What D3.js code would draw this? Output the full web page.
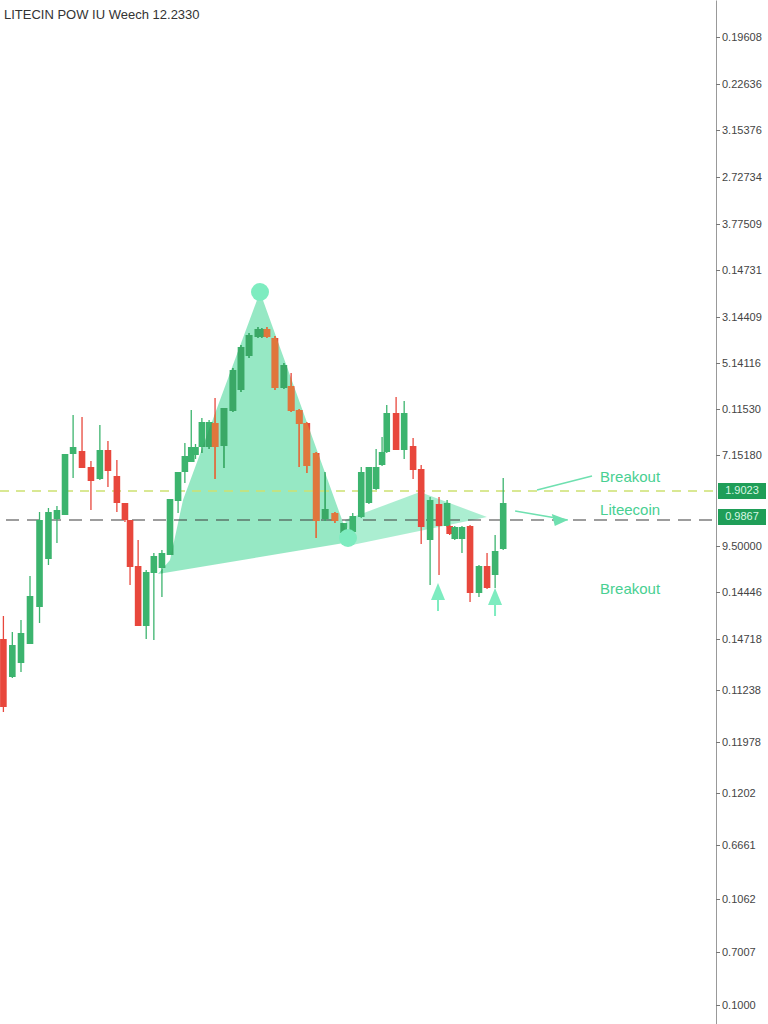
<!DOCTYPE html>
<html><head><meta charset="utf-8">
<script src="https://cdn.jsdelivr.net/npm/d3@7"></script>
<style>
html,body{margin:0;padding:0;background:#fff;}
svg{display:block;font-family:"Liberation Sans",Arial,sans-serif;}
</style></head>
<body>
<svg id="chart" width="768" height="1024"></svg>
<script>
const title = "LITECIN POW IU Weech 12.2330";
// candles: [time, open, high, low, close]
const candles = [
[0.4,38.5,40.8,31.2,31.7],[1.45,34.7,39.2,34.6,37.9],[2.47,36.1,40.4,35.2,39.1],[3.53,38.0,44.8,38.0,42.8],
[4.65,41.7,51.2,40.1,50.4],[5.7,46.5,51.6,45.9,51.2],[6.7,50.5,51.8,48.1,51.4],[7.65,50.9,57.0,50.9,57.0],
[8.6,57.0,60.9,54.6,57.7],[9.65,57.3,60.7,55.6,55.6],[10.7,55.7,56.3,51.4,54.3],[11.75,54.5,59.9,54.4,57.4],
[12.7,57.4,58.3,53.7,55.3],[13.75,54.8,56.4,51.2,52.1],[14.7,52.1,52.1,50.2,50.4],[15.3,50.4,50.4,43.9,45.7],
[16.25,45.8,48.4,39.8,39.8],[17.2,39.8,45.4,38.5,45.2],[18.1,45.1,47.1,38.4,46.8],[19.05,45.6,47.4,42.7,47.1],
[20.0,46.9,52.5,46.9,52.5],[20.95,52.3,55.2,51.1,55.2],[21.75,55.2,58.1,54.1,56.8],[22.5,56.2,61.4,56.2,57.7],
[23.0,56.9,58.0,56.5,57.7],[23.75,57.7,60.6,57.1,60.2],[24.6,57.7,60.4,57.5,60.2],[25.3,60.1,62.6,54.5,57.7],
[26.35,57.8,61.6,55.6,61.6],[27.4,61.3,65.6,61.2,65.4],[28.35,63.4,67.9,63.2,67.7],[29.3,66.8,69.1,66.6,68.9],
[30.35,68.7,69.7,68.6,69.5],[30.8,68.7,69.6,68.6,69.5],[31.4,69.5,69.7,68.6,68.7],[32.35,68.6,68.8,63.4,63.6],
[33.4,63.6,66.1,63.5,65.9],[34.25,63.8,65.1,61.2,61.3],[35.2,61.4,61.5,55.7,60.0],[36.1,60.1,60.2,55.1,55.8],
[37.2,57.1,57.2,48.6,50.3],[38.25,50.5,55.2,50.3,51.5],[39.4,51.1,51.2,50.1,50.3],[40.45,49.1,49.3,48.9,50.1],
[41.5,49.2,51.1,49.1,50.8],[42.5,50.7,55.7,50.6,55.2],[43.4,52.1,55.7,52.0,55.7],[44.25,53.5,57.5,53.4,55.7],
[44.95,55.9,58.7,55.8,57.2],[45.5,57.2,61.9,57.1,61.1],[46.6,61.1,62.7,57.4,57.4],[47.55,57.4,62.3,56.5,61.1],
[48.6,57.8,58.6,54.5,55.4],[49.55,55.5,55.9,48.0,49.7],[50.6,48.4,52.7,43.9,52.4],[51.65,52.0,52.7,44.9,49.8],
[52.6,49.8,52.4,49.7,52.1],[52.9,49.8,49.9,48.9,49.0],[53.5,48.5,49.8,48.4,49.7],[54.35,48.5,49.8,47.1,49.7],
[55.3,49.8,49.9,42.2,43.1],[56.35,43.1,45.9,42.7,45.8],[57.3,45.8,47.1,43.5,43.6],[58.25,44.9,48.9,43.6,47.3],
[59.2,47.5,54.6,47.4,52.1]
];
const tickValues = [98.7,94.0,89.4,84.7,80.0,75.4,70.7,66.1,61.5,56.9,47.8,43.2,38.5,33.4,28.2,23.1,17.9,12.5,7.2,1.9];
const tickLabels = ["0.19608","0.22636","3.15376","2.72734","3.77509","0.14731","3.14409","5.14116","0.11530","7.15180",
"9.50000","0.14446","0.14718","0.11238","0.11978","0.1202","0.6661","0.1062","0.7007","0.1000"];
const levelPrices = [53.3, 50.4];
const levelBadges = ["1.9023", "0.9867"];
const patternMain = [[30.59,73.2],[21.53,52.4],[20.0,46.4],[18.59,45.0],[41.18,48.2]];
const patternWedge = [[40.59,50.4],[49.41,53.2],[57.29,50.7],[41.41,47.9]];
const patternDots = [[30.59,73.2],[40.94,48.6]];
const upArrows = [[51.53,44.1],[58.24,43.6]];
const noteLabels = ["Breakout","Liteecoin","Breakout"];
const notePos = [[70.6,54.6],[70.6,51.3],[70.6,43.4]];
const noteLines = [[[63.18,53.4],[69.65,54.8]],[[60.6,51.3],[66.8,50.4]]];

const svg = d3.select("#chart");
const x = d3.scaleLinear().domain([0,84]).range([0,714]);
const y = d3.scaleLinear().domain([0,102.4]).range([1024,0]);
const axisX = 716;

const mint = "#8de6bf";
const green = "#3cb46e", red = "#e8473c";

const defs = svg.append("defs");
defs.append("clipPath").attr("id","pclip").append("polygon")
  .attr("points", patternMain.map(p=>[x(p[0]),y(p[1])].join(",")).join(" "));

svg.append("polygon").attr("points", patternMain.map(p=>[x(p[0]),y(p[1])].join(",")).join(" "))
  .attr("fill", mint).attr("opacity",0.92);
svg.append("polygon").attr("points", patternWedge.map(p=>[x(p[0]),y(p[1])].join(",")).join(" "))
  .attr("fill", "#9cebc9").attr("opacity",0.85);

svg.append("line").attr("x1",0).attr("x2",axisX).attr("y1",y(levelPrices[0])).attr("y2",y(levelPrices[0]))
  .attr("stroke","#cde170").attr("stroke-width",1.3).attr("stroke-dasharray","9,7");
svg.append("line").attr("x1",6).attr("x2",axisX).attr("y1",y(levelPrices[1])).attr("y2",y(levelPrices[1]))
  .attr("stroke","#3d3d3d").attr("stroke-width",1.2).attr("stroke-dasharray","13,8");

function drawCandles(g, up, down){
  const c = g.selectAll("g.c").data(candles).join("g").attr("class","c");
  c.append("line").attr("x1",d=>x(d[0])).attr("x2",d=>x(d[0]))
    .attr("y1",d=>y(d[2])).attr("y2",d=>y(d[3]))
    .attr("stroke",d=>d[4]>=d[1]?up:down).attr("stroke-width",1.3);
  c.append("rect").attr("x",d=>x(d[0])-3.3).attr("width",6.6)
    .attr("y",d=>y(Math.max(d[1],d[4])))
    .attr("height",d=>Math.max(1.5, Math.abs(y(d[1])-y(d[4]))))
    .attr("fill",d=>d[4]>=d[1]?up:down);
}
drawCandles(svg.append("g"), green, red);
drawCandles(svg.append("g").attr("clip-path","url(#pclip)"), "#3aa866", "#e0763c");

svg.selectAll("circle.dot").data(patternDots).join("circle").attr("class","dot")
  .attr("cx",d=>x(d[0])).attr("cy",d=>y(d[1])).attr("r",9).attr("fill","#7eecc0");

upArrows.forEach(a=>{
  const cx = x(a[0]), ty = y(a[1]);
  svg.append("line").attr("x1",cx).attr("x2",cx).attr("y1",ty+10).attr("y2",ty+28)
    .attr("stroke","#7eecc0").attr("stroke-width",2);
  svg.append("polygon").attr("points",`${cx},${ty} ${cx-7},${ty+17} ${cx+7},${ty+17}`).attr("fill","#7eecc0");
});

const noteColor = "#48d092";
noteLines.forEach(l=>{
  svg.append("line").attr("x1",x(l[0][0])).attr("y1",y(l[0][1])).attr("x2",x(l[1][0])).attr("y2",y(l[1][1]))
    .attr("stroke","#6fe0b0").attr("stroke-width",1.6);
});
{
  const tip = [x(noteLines[1][1][0]), y(noteLines[1][1][1])];
  svg.append("polygon").attr("points",`${tip[0]},${tip[1]} ${tip[0]-16},${tip[1]-6} ${tip[0]-13},${tip[1]+6}`)
    .attr("fill","#6fe0b0");
}
noteLabels.forEach((t,i)=>{
  svg.append("text").attr("x",x(notePos[i][0])).attr("y",y(notePos[i][1]))
    .attr("fill",noteColor).attr("font-size",15).attr("dominant-baseline","middle").text(t);
});

const ax = svg.append("g").attr("transform",`translate(${axisX},0)`)
  .call(d3.axisRight(y).tickValues(tickValues).tickFormat((d,i)=>tickLabels[i]).tickSize(4).tickSizeOuter(0).tickPadding(2));
ax.select(".domain").attr("stroke","#999");
ax.selectAll(".tick line").attr("stroke","#777");
ax.selectAll(".tick text").attr("fill","#444").attr("font-size",11).attr("font-family","Liberation Sans, Arial, sans-serif");

levelPrices.forEach((p,i)=>{
  const cy = y(p) - (i===1?3:0);
  svg.append("rect").attr("x",axisX+2).attr("y",cy-8).attr("width",48).attr("height",16).attr("fill","#1f9e58");
  svg.append("text").attr("x",axisX+26).attr("y",cy).attr("text-anchor","middle").attr("dominant-baseline","middle")
    .attr("fill","#d8f8e4").attr("font-size",11).text(levelBadges[i]);
});

svg.append("text").attr("x",4).attr("y",19).attr("fill","#333").attr("font-size",13).text(title);
</script>
</body></html>
